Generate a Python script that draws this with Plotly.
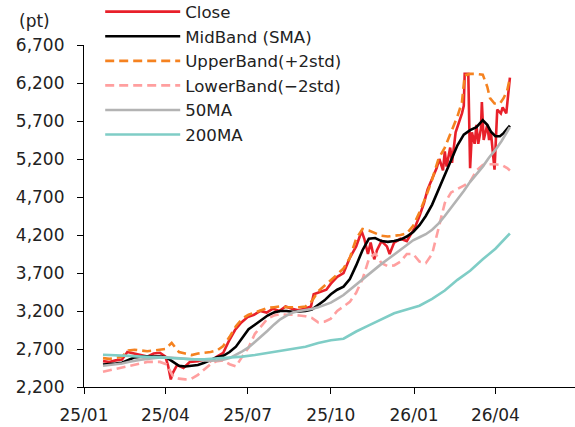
import plotly.graph_objects as go

# ---------------- data ----------------
close_dates = [
    "2025-01-22", "2025-01-29", "2025-02-05", "2025-02-12", "2025-02-18", "2025-02-26",
    "2025-03-05", "2025-03-12", "2025-03-19", "2025-03-26", "2025-04-01", "2025-04-04",
    "2025-04-07", "2025-04-09", "2025-04-14", "2025-04-21", "2025-04-28", "2025-05-07",
    "2025-05-14", "2025-05-21", "2025-05-28", "2025-06-04", "2025-06-10", "2025-06-17",
    "2025-06-24", "2025-07-01", "2025-07-08", "2025-07-15", "2025-07-22", "2025-07-29",
    "2025-08-05", "2025-08-12", "2025-08-19", "2025-08-26", "2025-09-02", "2025-09-09",
    "2025-09-12", "2025-09-19", "2025-09-26", "2025-10-01", "2025-10-08", "2025-10-15",
    "2025-10-22", "2025-10-29", "2025-11-04", "2025-11-07", "2025-11-11", "2025-11-14",
    "2025-11-18", "2025-11-21", "2025-11-26", "2025-12-02", "2025-12-05", "2025-12-10",
    "2025-12-17", "2025-12-24", "2026-01-02", "2026-01-07", "2026-01-12", "2026-01-16",
    "2026-01-21", "2026-01-26", "2026-01-29", "2026-02-02", "2026-02-04", "2026-02-06",
    "2026-02-10", "2026-02-12", "2026-02-16", "2026-02-19", "2026-02-23", "2026-02-25",
    "2026-02-26", "2026-03-02", "2026-03-04", "2026-03-06", "2026-03-09", "2026-03-11",
    "2026-03-13", "2026-03-16", "2026-03-17", "2026-03-19", "2026-03-23", "2026-03-25",
    "2026-03-27", "2026-03-31", "2026-04-02", "2026-04-03", "2026-04-07", "2026-04-09",
    "2026-04-13", "2026-04-15", "2026-04-17",
]
close_vals = [
    2540, 2530, 2550, 2560, 2660, 2640,
    2620, 2600, 2640, 2650, 2600, 2480,
    2300, 2380, 2490, 2450, 2530, 2540,
    2560, 2540, 2600, 2650, 2800, 2950,
    3050, 3120, 3150, 3200, 3180, 3230,
    3200, 3260, 3230, 3210, 3230, 3260,
    3420, 3450, 3480, 3560, 3650, 3700,
    3900, 4050, 4250, 4150, 3950, 4100,
    3880, 4000, 4120, 4050, 3950, 4100,
    4150, 4120, 4300, 4450, 4620, 4800,
    4950, 5080, 5200, 5050, 5300, 5100,
    5350, 5150, 5550, 5650, 5800, 5900,
    6320, 6320, 5080, 5550, 5400, 5650,
    5400, 5600, 5950, 5450, 5650, 5450,
    5550, 5060, 5500, 5850, 5800, 5880,
    5800, 6000, 6270,
]

mid_dates = [
    "2025-01-22", "2025-01-29", "2025-02-05", "2025-02-12", "2025-02-19", "2025-02-26",
    "2025-03-05", "2025-03-12", "2025-03-19", "2025-03-26", "2025-04-02", "2025-04-09",
    "2025-04-16", "2025-04-23", "2025-04-30", "2025-05-07", "2025-05-14", "2025-05-21",
    "2025-05-28", "2025-06-04", "2025-06-11", "2025-06-18", "2025-06-25", "2025-07-02",
    "2025-07-09", "2025-07-16", "2025-07-23", "2025-07-30", "2025-08-06", "2025-08-13",
    "2025-08-20", "2025-08-27", "2025-09-03", "2025-09-10", "2025-09-17", "2025-09-24",
    "2025-10-01", "2025-10-08", "2025-10-15", "2025-10-22", "2025-10-29", "2025-11-05",
    "2025-11-12", "2025-11-19", "2025-11-26", "2025-12-03", "2025-12-10", "2025-12-17",
    "2025-12-24", "2025-12-31", "2026-01-07", "2026-01-14", "2026-01-21", "2026-01-28",
    "2026-02-04", "2026-02-11", "2026-02-18", "2026-02-25", "2026-03-04", "2026-03-11",
    "2026-03-18", "2026-03-23", "2026-03-27", "2026-04-01", "2026-04-06", "2026-04-10",
    "2026-04-17",
]
mid_vals = [
    2495, 2500, 2510, 2520, 2560, 2590,
    2600, 2605, 2600, 2600, 2590, 2530,
    2480, 2470, 2480, 2490, 2520, 2560,
    2590, 2610, 2660, 2730, 2850, 2960,
    3020, 3080, 3140, 3180, 3200, 3200,
    3190, 3195, 3200, 3220, 3280, 3340,
    3420, 3480, 3520, 3620, 3800, 4000,
    4150, 4160, 4120, 4110, 4120, 4140,
    4180, 4240, 4330, 4450, 4600, 4800,
    5000, 5200, 5380, 5520, 5580, 5620,
    5710, 5650, 5560, 5500, 5500, 5540,
    5640,
]

upper_dates = [
    "2025-01-22", "2025-01-29", "2025-02-05", "2025-02-12", "2025-02-19", "2025-02-26",
    "2025-03-05", "2025-03-12", "2025-03-19", "2025-03-26", "2025-04-01", "2025-04-08",
    "2025-04-16", "2025-04-23", "2025-04-30", "2025-05-07", "2025-05-14", "2025-05-21",
    "2025-05-28", "2025-06-04", "2025-06-11", "2025-06-18", "2025-06-25", "2025-07-02",
    "2025-07-09", "2025-07-16", "2025-07-23", "2025-07-30", "2025-08-06", "2025-08-13",
    "2025-08-20", "2025-08-27", "2025-09-03", "2025-09-10", "2025-09-17", "2025-09-24",
    "2025-10-01", "2025-10-08", "2025-10-15", "2025-10-22", "2025-10-29", "2025-11-05",
    "2025-11-12", "2025-11-19", "2025-11-26", "2025-12-03", "2025-12-10", "2025-12-17",
    "2025-12-24", "2025-12-31", "2026-01-07", "2026-01-14", "2026-01-21", "2026-01-28",
    "2026-02-04", "2026-02-11", "2026-02-18", "2026-02-23", "2026-02-26", "2026-03-04",
    "2026-03-11", "2026-03-18", "2026-03-23", "2026-03-26", "2026-03-31", "2026-04-06",
    "2026-04-10", "2026-04-14", "2026-04-17",
]
upper_vals = [
    2580, 2570, 2580, 2600, 2680, 2690,
    2680, 2670, 2680, 2690, 2700, 2780,
    2660, 2640, 2620, 2640, 2650, 2660,
    2680, 2740, 2860, 3000, 3100, 3150,
    3180, 3210, 3240, 3250, 3260, 3250,
    3250, 3250, 3260, 3330, 3460, 3530,
    3600, 3680, 3760, 3900, 4150, 4280,
    4260, 4220, 4190, 4180, 4190, 4200,
    4220, 4320, 4500, 4700, 4930, 5200,
    5350, 5550, 5760, 5950, 6300, 6320,
    6320, 6310, 6150, 6000, 5930, 5930,
    6000, 6100, 6270,
]

lower_dates = [
    "2025-01-22", "2025-01-29", "2025-02-05", "2025-02-12", "2025-02-19", "2025-02-26",
    "2025-03-05", "2025-03-12", "2025-03-19", "2025-03-26", "2025-04-02", "2025-04-06",
    "2025-04-10", "2025-04-16", "2025-04-23", "2025-04-30", "2025-05-07", "2025-05-14",
    "2025-05-21", "2025-05-28", "2025-06-04", "2025-06-11", "2025-06-18", "2025-06-25",
    "2025-07-02", "2025-07-09", "2025-07-16", "2025-07-23", "2025-07-30", "2025-08-06",
    "2025-08-13", "2025-08-20", "2025-08-27", "2025-09-03", "2025-09-10", "2025-09-17",
    "2025-09-24", "2025-10-01", "2025-10-08", "2025-10-15", "2025-10-22", "2025-10-29",
    "2025-11-05", "2025-11-12", "2025-11-19", "2025-11-26", "2025-12-03", "2025-12-10",
    "2025-12-17", "2025-12-24", "2025-12-31", "2026-01-07", "2026-01-14", "2026-01-21",
    "2026-01-28", "2026-02-04", "2026-02-11", "2026-02-18", "2026-02-25", "2026-03-04",
    "2026-03-11", "2026-03-18", "2026-03-25", "2026-04-01", "2026-04-08", "2026-04-14",
    "2026-04-17",
]
lower_vals = [
    2400, 2420, 2440, 2450, 2470, 2500,
    2520, 2530, 2530, 2530, 2500, 2420,
    2330, 2310, 2300, 2310, 2360, 2430,
    2500, 2540, 2550, 2500, 2470, 2600,
    2720, 2900, 3000, 3100, 3140, 3160,
    3150, 3150, 3140, 3130, 3110, 3050,
    3060, 3100, 3200, 3260, 3320, 3440,
    3620, 3880, 3960, 3830, 3790, 3800,
    3850, 3950, 3950, 3850, 3830, 3950,
    4300, 4620, 4760, 4800, 4850, 4900,
    5050, 5120, 5130, 5130, 5120, 5080,
    5050,
]

ma50_dates = [
    "2025-01-22", "2025-01-29", "2025-02-05", "2025-02-12", "2025-02-19", "2025-02-26",
    "2025-03-05", "2025-03-12", "2025-03-19", "2025-03-26", "2025-04-02", "2025-04-09",
    "2025-04-16", "2025-04-23", "2025-04-30", "2025-05-07", "2025-05-14", "2025-05-21",
    "2025-05-28", "2025-06-04", "2025-06-11", "2025-06-18", "2025-06-25", "2025-07-02",
    "2025-07-09", "2025-07-16", "2025-07-23", "2025-07-30", "2025-08-06", "2025-08-13",
    "2025-08-20", "2025-08-27", "2025-09-03", "2025-09-10", "2025-09-17", "2025-09-24",
    "2025-10-01", "2025-10-08", "2025-10-15", "2025-10-22", "2025-10-29", "2025-11-05",
    "2025-11-12", "2025-11-19", "2025-11-26", "2025-12-03", "2025-12-10", "2025-12-17",
    "2025-12-24", "2025-12-31", "2026-01-07", "2026-01-14", "2026-01-21", "2026-01-28",
    "2026-02-04", "2026-02-11", "2026-02-18", "2026-02-25", "2026-03-04", "2026-03-11",
    "2026-03-18", "2026-03-25", "2026-04-01", "2026-04-08", "2026-04-17",
]
ma50_vals = [
    2480, 2490, 2500, 2510, 2530, 2550,
    2560, 2570, 2580, 2590, 2590, 2585,
    2580, 2575, 2570, 2560, 2550, 2545,
    2550, 2560, 2580, 2620, 2670, 2720,
    2790, 2860, 2940, 3020, 3090, 3140,
    3180, 3200, 3210, 3225, 3250, 3280,
    3310, 3360, 3410, 3480, 3550, 3610,
    3680, 3750, 3820, 3880, 3940, 4000,
    4070, 4130, 4170, 4210, 4270, 4350,
    4450, 4560, 4660, 4780, 4900, 5000,
    5100, 5220, 5320, 5440, 5620,
]

ma200_dates = [
    "2025-01-22", "2025-02-05", "2025-02-19", "2025-03-05", "2025-03-19", "2025-04-02",
    "2025-04-16", "2025-04-30", "2025-05-14", "2025-05-28", "2025-06-11", "2025-06-25",
    "2025-07-09", "2025-07-23", "2025-08-06", "2025-08-20", "2025-09-03", "2025-09-17",
    "2025-10-01", "2025-10-15", "2025-10-29", "2025-11-12", "2025-11-26", "2025-12-10",
    "2025-12-24", "2026-01-07", "2026-01-21", "2026-02-04", "2026-02-18", "2026-03-04",
    "2026-03-18", "2026-04-01", "2026-04-17",
]
ma200_vals = [
    2625, 2620, 2610, 2600, 2595, 2585,
    2575, 2565, 2565, 2575, 2590, 2600,
    2620, 2650, 2680, 2710, 2730, 2780,
    2815, 2835, 2930, 3010, 3090, 3170,
    3220, 3270, 3360, 3470, 3610, 3730,
    3880, 4020, 4220,
]

y_ticks = [2200, 2700, 3200, 3700, 4200, 4700, 5200, 5700, 6200, 6700]

# ---------------- figure ----------------
FONT = "DejaVu Sans"
TXT = "#222222"

fig = go.Figure()
series = [
    ("Close", close_dates, close_vals, "#e8202a", "solid"),
    ("MidBand (SMA)", mid_dates, mid_vals, "#000000", "solid"),
    ("UpperBand(+2std)", upper_dates, upper_vals, "#f58220", "9px,5px"),
    ("LowerBand(−2std)", lower_dates, lower_vals, "#ff9f9f", "9px,5px"),
    ("50MA", ma50_dates, ma50_vals, "#b3b3b3", "solid"),
    ("200MA", ma200_dates, ma200_vals, "#7fcdc6", "solid"),
]
for name, xs, ys, col, dash in series:
    fig.add_trace(go.Scatter(
        x=xs, y=ys, name=name, mode="lines",
        line=dict(color=col, width=2.6, dash=dash),
    ))

fig.update_layout(
    width=575, height=427,
    margin=dict(l=84, r=0, t=45, b=40, autoexpand=False),
    paper_bgcolor="white", plot_bgcolor="white",
    font=dict(family=FONT, size=16, color=TXT),
    showlegend=True,
    legend=dict(
        x=0.033, xanchor="left", y=1.148, yanchor="top",
        bgcolor="rgba(0,0,0,0)", font=dict(size=16.6, color=TXT, family=FONT),
        itemwidth=75, tracegroupgap=0,
    ),
    xaxis=dict(
        type="date", range=["2025-01-01", "2026-06-28"],
        tick0="2025-01-01", dtick="M3", tickformat="%y/%m",
        showgrid=False, zeroline=False,
        showline=True, linecolor="#000000", linewidth=1.2,
        ticks="outside", ticklen=6, tickcolor="#000000",
        ticklabelstandoff=6,
        tickfont=dict(size=17, color=TXT, family=FONT),
    ),
    yaxis=dict(
        range=[2200, 6700], tickvals=y_ticks, tickformat=",",
        showgrid=False, zeroline=False,
        showline=True, linecolor="#000000", linewidth=1.2,
        ticks="outside", ticklen=6, tickcolor="#000000",
        ticklabelstandoff=9,
        tickfont=dict(size=17, color=TXT, family=FONT),
    ),
    annotations=[dict(
        text="(pt)", xref="paper", yref="paper", x=-0.0998, y=1.07,
        xanchor="center", yanchor="middle", showarrow=False,
        font=dict(size=17, color=TXT, family=FONT),
    )],
)

# remove the browser's default 8px body margin so the figure fills the window
fig.write_html(
    "out.html",
    config={"displayModeBar": False},
    post_script="document.body.style.margin='0';",
)
